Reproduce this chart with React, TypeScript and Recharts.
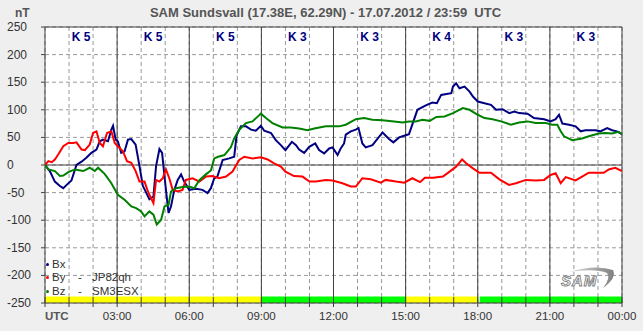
import React from 'react';
import { LineChart, Line, XAxis, YAxis, CartesianGrid, ReferenceLine, ReferenceArea } from 'recharts';

const bxTime = [0, 0.2, 0.41, 0.62, 0.76, 0.9, 1.1, 1.31, 1.52, 1.72, 1.93, 2.14, 2.28, 2.41, 2.62, 2.76, 2.83, 2.94, 3.03, 3.17, 3.31, 3.45, 3.59, 3.77, 3.93, 4.07, 4.21, 4.34, 4.51, 4.62, 4.76, 4.87, 4.97, 5.06, 5.14, 5.24, 5.38, 5.52, 5.66, 5.79, 6.0, 6.28, 6.55, 6.76, 6.9, 7.04, 7.17, 7.39, 7.66, 7.87, 7.97, 8.15, 8.36, 8.57, 8.77, 8.98, 9.12, 9.4, 9.6, 9.81, 10.0, 10.27, 10.44, 10.57, 10.78, 10.99, 11.24, 11.4, 11.61, 11.82, 11.96, 12.17, 12.3, 12.44, 12.51, 12.72, 12.93, 13.04, 13.2, 13.34, 13.62, 14.04, 14.31, 14.49, 14.73, 14.94, 15.14, 15.49, 15.84, 16.11, 16.3, 16.48, 16.76, 16.9, 16.97, 17.1, 17.24, 17.45, 17.66, 17.8, 18.0, 18.28, 18.55, 18.76, 19.03, 19.31, 19.52, 19.72, 20.07, 20.34, 20.76, 21.03, 21.24, 21.38, 21.52, 21.8, 22.07, 22.28, 22.48, 22.9, 23.1, 23.38, 23.59, 23.79, 24.0];
const bxValue = [0, -11, -30, -38, -42, -36, -28, 0, 6, 13, 22, 28, 43, 46, 43, 64, 71, 46, 43, 22, 25, 46, 47, 37, -2, -38, -50, -62, -57, -2, 29, 22, -20, -57, -87, -75, -45, -27, -17, -30, -45, -43, -45, -51, -42, -24, -21, 9, 12, 15, 54, 70, 70, 64, 62, 71, 62, 58, 45, 36, 27, 42, 36, 28, 22, 33, 39, 27, 21, 30, 32, 18, 30, 39, 55, 61, 64, 67, 39, 32, 36, 59, 47, 41, 50, 53, 56, 100, 108, 113, 112, 127, 129, 130, 142, 148, 139, 142, 133, 124, 115, 112, 109, 100, 101, 94, 97, 94, 93, 85, 83, 79, 83, 91, 75, 73, 70, 61, 63, 63, 61, 67, 63, 61, 56];

const byTime = [0, 0.14, 0.28, 0.41, 0.55, 0.76, 0.97, 1.17, 1.31, 1.52, 1.66, 1.86, 2.0, 2.14, 2.28, 2.41, 2.58, 2.76, 2.9, 3.03, 3.24, 3.41, 3.59, 3.77, 3.93, 4.14, 4.28, 4.41, 4.51, 4.62, 4.76, 4.9, 5.03, 5.17, 5.31, 5.52, 5.72, 5.86, 6.14, 6.42, 6.69, 6.97, 7.24, 7.53, 7.8, 8.08, 8.29, 8.63, 8.98, 9.26, 9.53, 9.81, 10.0, 10.36, 10.71, 11.0, 11.27, 11.68, 11.96, 12.37, 12.72, 12.93, 13.2, 13.55, 13.97, 14.17, 14.6, 14.94, 15.28, 15.6, 15.8, 16.14, 16.55, 16.83, 17.1, 17.35, 17.52, 17.8, 18.07, 18.55, 18.9, 19.3, 19.59, 20.0, 20.41, 20.76, 21.03, 21.24, 21.45, 21.66, 22.07, 22.34, 22.62, 23.24, 23.45, 23.72, 24.0];
const byValue = [0, 7, 5, 10, 19, 34, 40, 40, 41, 28, 27, 37, 58, 61, 40, 34, 58, 61, 40, 34, 25, 7, 4, -11, -30, -30, -48, -60, -69, -27, -30, -24, -8, -24, -45, -48, -45, -27, -24, -30, -21, -20, -24, -21, -12, 9, 15, 12, 14, 10, 3, -3, -12, -20, -21, -30, -30, -27, -28, -33, -39, -39, -24, -26, -32, -27, -30, -32, -24, -31, -23, -23, -21, -12, -3, 10, 3, -6, -14, -14, -26, -36, -33, -27, -28, -27, -18, -15, -33, -22, -28, -21, -14, -14, -8, -5, -11];

const bzTime = [0, 0.14, 0.41, 0.62, 0.76, 0.97, 1.24, 1.59, 1.86, 2.07, 2.21, 2.48, 2.76, 3.03, 3.31, 3.59, 3.79, 4.0, 4.14, 4.34, 4.51, 4.65, 4.83, 4.97, 5.14, 5.24, 5.45, 5.72, 6.0, 6.21, 6.41, 6.69, 6.9, 7.04, 7.2, 7.46, 7.6, 7.73, 7.87, 8.08, 8.36, 8.63, 8.88, 8.98, 9.19, 9.46, 9.88, 10.22, 10.57, 10.92, 11.2, 11.68, 12.24, 12.51, 12.93, 13.27, 13.62, 14.04, 14.52, 14.87, 15.14, 15.42, 15.7, 16.0, 16.28, 16.62, 16.97, 17.38, 17.66, 18.0, 18.28, 18.62, 18.97, 19.38, 19.72, 20.07, 20.41, 20.83, 21.1, 21.31, 21.45, 21.59, 21.93, 22.34, 22.62, 23.03, 23.31, 23.59, 23.86, 24.0];
const bzValue = [0, -8, -11, -20, -19, -13, -8, -11, -5, -11, -5, -16, -33, -54, -63, -75, -78, -84, -93, -84, -90, -108, -99, -75, -72, -48, -42, -40, -39, -42, -28, -17, -10, 12, 15, 18, 25, 32, 48, 64, 76, 79, 89, 93, 85, 76, 68, 68, 66, 63, 66, 70, 70, 73, 83, 85, 82, 81, 79, 77, 79, 79, 82, 80, 87, 88, 94, 103, 100, 91, 85, 83, 79, 73, 77, 79, 76, 76, 73, 73, 61, 52, 45, 48, 52, 57, 58, 57, 60, 56];

const kCenters = [1.5, 4.5, 7.5, 10.5, 13.5, 16.5, 19.5, 22.5];
const kIndex = [5, 5, 5, 3, 3, 4, 3, 3];
const yTicks = [250, 200, 150, 100, 50, 0, -50, -100, -150, -200, -250];
const hourTicks = [0, 1, 2, 3, 4, 5, 6, 7, 8, 9, 10, 11, 12, 13, 14, 15, 16, 17, 18, 19, 20, 21, 22, 23, 24];
const majorHours = [3, 6, 9, 12, 15, 18, 21];
const hourLabels: Record<number, string> = { 0: 'UTC', 3: '03:00', 6: '06:00', 9: '09:00', 12: '12:00', 15: '15:00', 18: '18:00', 21: '21:00', 24: '00:00' };
const bandStart = [0, 9, 15, 18.08];
const bandEnd = [9, 15, 18, 24];
const bandColor = ['#ffff00', '#00ff00', '#ffff00', '#00ff00'];

const zip = (t: number[], v: number[]) => t.map((x, i) => ({ t: x, v: v[i] }));
const bxData = zip(bxTime, bxValue);
const byData = zip(byTime, byValue);
const bzData = zip(bzTime, bzValue);

const FONT = '"Liberation Sans", Arial, sans-serif';
const DARK = '#404040';

const XTick = (props: any) => {
  const { x, y, payload } = props;
  const v = payload.value;
  const label = hourLabels[v];
  return (
    <g>
      <line x1={x} x2={x} y1={y - 6} y2={y + 4} stroke={DARK} strokeWidth={1} />
      {label && (
        <text
          x={x}
          y={y + 17}
          textAnchor={v === 0 ? 'start' : 'middle'}
          fontFamily={FONT}
          fontSize={11.5}
          fontWeight={v === 0 ? 'bold' : 'normal'}
          fill={v === 0 ? '#555' : '#333'}
        >
          {label}
        </text>
      )}
    </g>
  );
};

const YTick = (props: any) => {
  const { y, payload } = props;
  return (
    <g>
      <line x1={41} x2={45} y1={y} y2={y} stroke={DARK} strokeWidth={1} />
      <text x={7} y={y + 4} textAnchor="start" fontFamily={FONT} fontSize={12} fill="#333">
        {payload.value}
      </text>
    </g>
  );
};

const makeKLabel = (k: number) => (props: any) => {
  const vb = props.viewBox || {};
  return (
    <text x={vb.x} y={(vb.y || 0) + 14} textAnchor="middle" fontFamily={FONT} fontSize={12} fontWeight="bold" fill="#000080">
      {'K ' + k}
    </text>
  );
};

const legendItems = [
  { name: 'Bx', extra: '', color: '#000080' },
  { name: 'By', extra: 'JP82qh', color: '#ff0000' },
  { name: 'Bz', extra: 'SM3ESX', color: '#008000' },
];

export default function App() {
  return (
    <div style={{ position: 'absolute', left: 0, top: 0, width: 643, height: 331, background: '#efefef', overflow: 'hidden' }}>
      <LineChart width={643} height={331} margin={{ top: 27, right: 21, bottom: 0, left: 0 }}>
        <CartesianGrid
          stroke="#999"
          strokeDasharray="4 3"
          verticalValues={hourTicks}
          horizontalValues={yTicks}
          fill="#ffffff"
        />
        <XAxis
          dataKey="t"
          type="number"
          domain={[0, 24]}
          ticks={hourTicks}
          interval={0}
          axisLine={false}
          tickLine={false}
          tickSize={0}
          tickMargin={0}
          height={28}
          tick={<XTick />}
          allowDataOverflow
        />
        <YAxis
          type="number"
          domain={[-250, 250]}
          ticks={yTicks}
          interval={0}
          axisLine={false}
          tickLine={false}
          tickSize={0}
          width={45}
          tick={<YTick />}
          allowDataOverflow
        />
        {bandStart.map((s, i) => (
          <ReferenceArea key={'b' + i} x1={s} x2={bandEnd[i]} y1={-250} y2={-238} fill={bandColor[i]} fillOpacity={1} stroke="none" ifOverflow="hidden" />
        ))}
        {majorHours.map((h) => (
          <ReferenceLine key={'h' + h} x={h} stroke={DARK} strokeWidth={1} />
        ))}
        {kCenters.map((c, i) => (
          <ReferenceLine key={'k' + i} x={c} stroke="none" label={makeKLabel(kIndex[i])} />
        ))}
        <ReferenceLine y={0} stroke={DARK} strokeWidth={1} />
        <ReferenceLine y={250} stroke={DARK} strokeWidth={1} />
        <ReferenceLine y={-250} stroke={DARK} strokeWidth={1} />
        <ReferenceLine x={0} stroke={DARK} strokeWidth={1} />
        <ReferenceLine x={24} stroke={DARK} strokeWidth={1} />
        <Line data={bxData} dataKey="v" type="linear" stroke="#000080" strokeWidth={2} dot={false} isAnimationActive={false} />
        <Line data={byData} dataKey="v" type="linear" stroke="#ff0000" strokeWidth={2} dot={false} isAnimationActive={false} />
        <Line data={bzData} dataKey="v" type="linear" stroke="#008000" strokeWidth={2} dot={false} isAnimationActive={false} />
      </LineChart>
      <div style={{ position: 'absolute', left: 0, top: 0, width: 643, textAlign: 'center', fontFamily: FONT, fontSize: 13, fontWeight: 'bold', color: '#555', lineHeight: '16px', paddingTop: 5, whiteSpace: 'pre', paddingLeft: 4 }}>
        {'SAM Sundsvall (17.38E, 62.29N) - 17.07.2012 / 23:59  UTC'}
      </div>
      <div style={{ position: 'absolute', left: 15, top: 5, fontFamily: FONT, fontSize: 12, fontWeight: 'bold', color: '#555', lineHeight: '16px' }}>nT</div>
      <div style={{ position: 'absolute', left: 46, top: 258, fontFamily: FONT, fontSize: 11.5, color: '#333', lineHeight: '13.3px' }}>
        {legendItems.map((it) => (
          <div key={it.name} style={{ display: 'flex', alignItems: 'center', whiteSpace: 'pre' }}>
            <span style={{ display: 'inline-block', width: 3, height: 3, borderRadius: 2, background: it.color, marginRight: 3 }} />
            <span style={{ width: 26 }}>{it.name}</span>
            {it.extra && <span style={{ width: 14 }}>-</span>}
            {it.extra && <span>{it.extra}</span>}
          </div>
        ))}
      </div>
      <svg style={{ position: 'absolute', left: 555, top: 264 }} width={62} height={28}>
        <defs>
          <linearGradient id="sw" x1="0" x2="1" y1="0" y2="0">
            <stop offset="0" stopColor="#e0e0e0" />
            <stop offset="1" stopColor="#808080" />
          </linearGradient>
        </defs>
        <path d="M14 8 Q40 0 58 6 Q62 14 48 24 Q56 14 52 9 Q40 4 14 8 Z" fill="url(#sw)" />
        <text x={6} y={22} fontFamily={FONT} fontSize={15} fontStyle="italic" fontWeight="bold" fill="#ffffff" stroke="#808080" strokeWidth={0.9} letterSpacing={1}>SAM</text>
      </svg>
    </div>
  );
}
